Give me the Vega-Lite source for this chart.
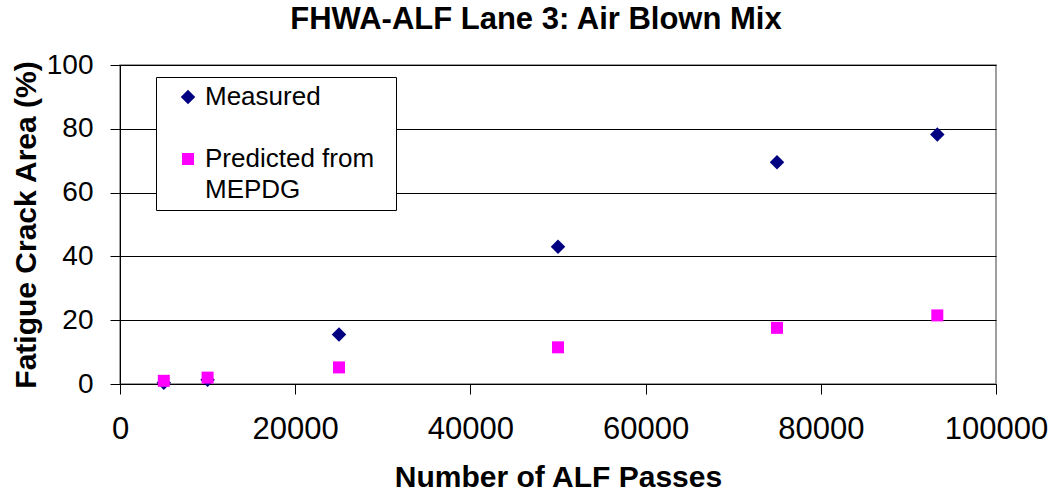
{
  "$schema": "https://vega.github.io/schema/vega-lite/v6.json",
  "width": 876,
  "height": 319,
  "autosize": "none",
  "padding": {"left": 120, "top": 65, "right": 59, "bottom": 115},
  "background": "white",
  "config": {
    "font": "Liberation Sans",
    "view": {"stroke": "#808080", "strokeWidth": 1.5},
    "axis": {"labelFont": "Liberation Sans", "titleFont": "Liberation Sans", "labelColor": "black", "titleColor": "black", "domainColor": "black", "tickColor": "black", "gridColor": "black", "gridOpacity": 1, "gridWidth": 1},
    "style": {"guide-label": {"lineHeight": 31}}
  },
  "title": {"text": "FHWA-ALF Lane 3: Air Blown Mix", "fontSize": 31, "fontWeight": "bold", "font": "Liberation Sans", "color": "black", "anchor": "middle", "offset": 15, "dx": -22},
  "data": {"values": [
    {"passes": 5000, "area": 0.4, "series": "Measured"},
    {"passes": 10000, "area": 1.3, "series": "Measured"},
    {"passes": 25000, "area": 15.5, "series": "Measured"},
    {"passes": 50000, "area": 43.0, "series": "Measured"},
    {"passes": 75000, "area": 69.5, "series": "Measured"},
    {"passes": 93300, "area": 78.2, "series": "Measured"},
    {"passes": 5000, "area": 1.0, "series": "Predicted from MEPDG"},
    {"passes": 10000, "area": 2.0, "series": "Predicted from MEPDG"},
    {"passes": 25000, "area": 5.2, "series": "Predicted from MEPDG"},
    {"passes": 50000, "area": 11.5, "series": "Predicted from MEPDG"},
    {"passes": 75000, "area": 17.6, "series": "Predicted from MEPDG"},
    {"passes": 93300, "area": 21.5, "series": "Predicted from MEPDG"}
  ]},
  "mark": {"type": "point", "filled": true, "opacity": 1},
  "encoding": {
    "x": {"field": "passes", "type": "quantitative", "title": "Number of ALF Passes",
      "scale": {"domain": [0, 100000], "nice": false, "zero": true},
      "axis": {"values": [0, 20000, 40000, 60000, 80000, 100000], "format": "d", "grid": false, "labelFontSize": 31, "titleFontSize": 30, "titleFontWeight": "bold", "tickSize": 10, "labelPadding": 20, "titlePadding": 18, "labelFlush": false}},
    "y": {"field": "area", "type": "quantitative", "title": "Fatigue Crack Area (%)",
      "scale": {"domain": [0, 100], "nice": false},
      "axis": {"values": [0, 20, 40, 60, 80, 100], "grid": true, "labelFontSize": 28, "titleFontSize": 30, "titleFontWeight": "bold", "tickSize": 10, "labelPadding": 17, "titlePadding": 5, "labelFlush": false}},
    "color": {"field": "series", "type": "nominal",
      "scale": {"domain": ["Measured", "Predicted from MEPDG"], "range": ["#000080", "#FF00FF"]},
      "legend": {"title": null, "orient": "none", "legendX": 36, "legendY": 12,
        "strokeColor": "black", "fillColor": "white", "padding": 7,
        "labelFontSize": 26, "labelColor": "black", "labelLimit": 400, "symbolSize": 150,
        "symbolOffset": 12, "rowPadding": 36, "labelOffset": 4,
        "labelExpr": "datum.label == 'Predicted from MEPDG' ? ['Predicted from\u00a0\u00a0\u200b', 'MEPDG'] : datum.label"}},
    "shape": {"field": "series", "type": "nominal",
      "scale": {"domain": ["Measured", "Predicted from MEPDG"], "range": ["diamond", "square"]}},
    "size": {"field": "series", "type": "nominal",
      "scale": {"domain": ["Measured", "Predicted from MEPDG"], "range": [210, 144]}, "legend": null}
  }
}
